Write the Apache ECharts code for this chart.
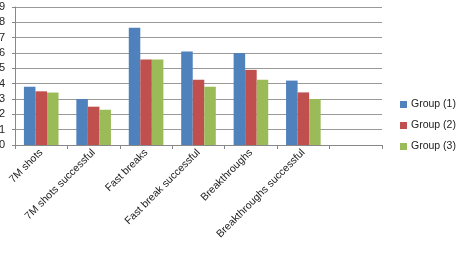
<!DOCTYPE html>
<html>
<head>
<meta charset="utf-8">
<script src="https://cdn.jsdelivr.net/npm/echarts@6/dist/echarts.min.js"></script>
<style>
  html, body { margin: 0; padding: 0; background: #fff; }
  #chart { width: 456px; height: 254px; }
</style>
</head>
<body>
<div id="chart"></div>
<script>
const categories = ['7M shots', '7M shots successful', 'Fast breaks', 'Fast break successful', 'Breakthroughs', 'Breakthroughs successful', '']
const group1 = [3.8, 3.0, 7.65, 6.1, 6.0, 4.2, null]
const group2 = [3.5, 2.5, 5.57, 4.26, 4.9, 3.43, null]
const group3 = [3.42, 2.3, 5.57, 3.8, 4.26, 3.0, null]
const seriesNames = ['Group (1)', 'Group (2)', 'Group (3)']

const chart = echarts.init(document.getElementById('chart'))
const font = 'Liberation Sans'
const mkBar = (name, data, color) => ({
  name,
  type: 'bar',
  data,
  barGap: 0,
  barCategoryGap: '34%',
  itemStyle: { color }
})

chart.setOption({
  animation: false,
  textStyle: { fontFamily: font },
  grid: { left: 15, right: 74, top: 7, bottom: 109, containLabel: false, outerBoundsMode: 'none' },
  legend: {
    orient: 'vertical',
    left: 400,
    top: 99,
    padding: 0,
    itemWidth: 7,
    itemHeight: 7,
    itemGap: 10,
    icon: 'rect',
    textStyle: { fontSize: 10.5, color: '#222', fontFamily: font, padding: [0, 0, 0, -1] },
    data: seriesNames
  },
  xAxis: {
    type: 'category',
    data: categories,
    boundaryGap: true,
    axisLine: { lineStyle: { color: '#888' } },
    axisTick: { show: true, length: 4, interval: 0, lineStyle: { color: '#888' } },
    axisLabel: { interval: 0, rotate: 45, fontSize: 10.5, color: '#222', margin: 6, fontFamily: font }
  },
  yAxis: {
    type: 'value',
    min: 0,
    max: 9,
    interval: 1,
    axisLine: { show: true, lineStyle: { color: '#888' } },
    axisTick: { show: true, length: 3, lineStyle: { color: '#888' } },
    axisLabel: { fontSize: 11, color: '#222', margin: 10, fontFamily: font },
    splitLine: { lineStyle: { color: '#999' } }
  },
  series: [
    mkBar(seriesNames[0], group1, '#4F81BD'),
    mkBar(seriesNames[1], group2, '#C0504D'),
    mkBar(seriesNames[2], group3, '#9BBB59')
  ]
})
</script>
</body>
</html>
